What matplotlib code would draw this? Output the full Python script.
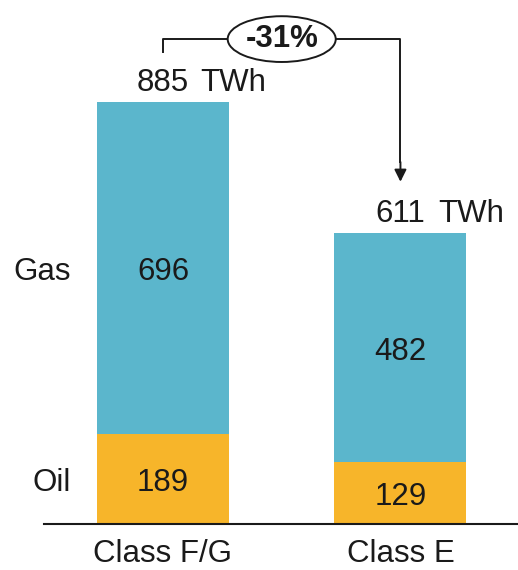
import matplotlib
matplotlib.use("Agg")
import matplotlib.pyplot as plt
from matplotlib.patches import Ellipse

plt.rcParams['font.family'] = ['Liberation Sans', 'DejaVu Sans']

categories = ['Class F/G', 'Class E']
oil = [189, 129]
gas = [696, 482]
change_label = '-31%'
unit = 'TWh'

blue = '#5bb6cc'
orange = '#f7b52a'
ink = '#1a1a1a'
fs = 22.5

totals = [o + g for o, g in zip(oil, gas)]
x = list(range(len(categories)))

fig = plt.figure(figsize=(5.18, 5.70), dpi=100)
ax = fig.add_axes([44 / 518, 46 / 570, 474 / 518, 524 / 570])

w = 0.556
ax.bar(x, oil, width=w, color=orange, zorder=2)
ax.bar(x, gas, width=w, bottom=oil, color=blue, zorder=2)


def label(xv, yv, s, dx=0, dy=-3, **kw):
    ax.annotate(s, (xv, yv), xytext=(dx, dy), textcoords='offset points',
                fontsize=fs, color=ink, annotation_clip=False, **kw)


# segment values and totals
for i in x:
    label(i, oil[i] / 2, str(oil[i]), ha='center', va='center')
    label(i, oil[i] + gas[i] / 2, str(gas[i]), ha='center', va='center')
    label(i, totals[i], str(totals[i]), dy=8, ha='center', va='baseline')
    label(i, totals[i], unit, dx=27, dy=8, ha='left', va='baseline')

# row labels left of the first bar
label(-0.387, oil[0] / 2, 'Oil', ha='right', va='center')
label(-0.387, oil[0] + gas[0] / 2, 'Gas', ha='right', va='center')

# bracket with change marker
top = 1017
ax.plot([0, 0, 1, 1], [990, top, top, 760], color=ink, lw=1.4, zorder=3)
ax.annotate('', xy=(1, 712), xytext=(1, 765),
            arrowprops=dict(arrowstyle='-|>', color=ink, lw=1.4, mutation_scale=18))
ax.add_patch(Ellipse((0.5, top), 0.455, 96, facecolor='white', edgecolor=ink, lw=1.4, zorder=4))
ax.text(0.5, top, change_label, ha='center', va='center', fontsize=fs, fontweight='bold',
        color=ink, zorder=5)

ax.set_xlim(-0.501, 1.495)
ax.set_ylim(0, 1099)
ax.set_xticks(x)
ax.set_xticklabels(categories, fontsize=fs, color=ink)
ax.tick_params(axis='x', length=0, pad=11)
ax.set_yticks([])
for s in ['top', 'right', 'left']:
    ax.spines[s].set_visible(False)
ax.spines['bottom'].set_linewidth(1.5)
ax.spines['bottom'].set_color(ink)

fig.savefig('out.png', dpi=100)
